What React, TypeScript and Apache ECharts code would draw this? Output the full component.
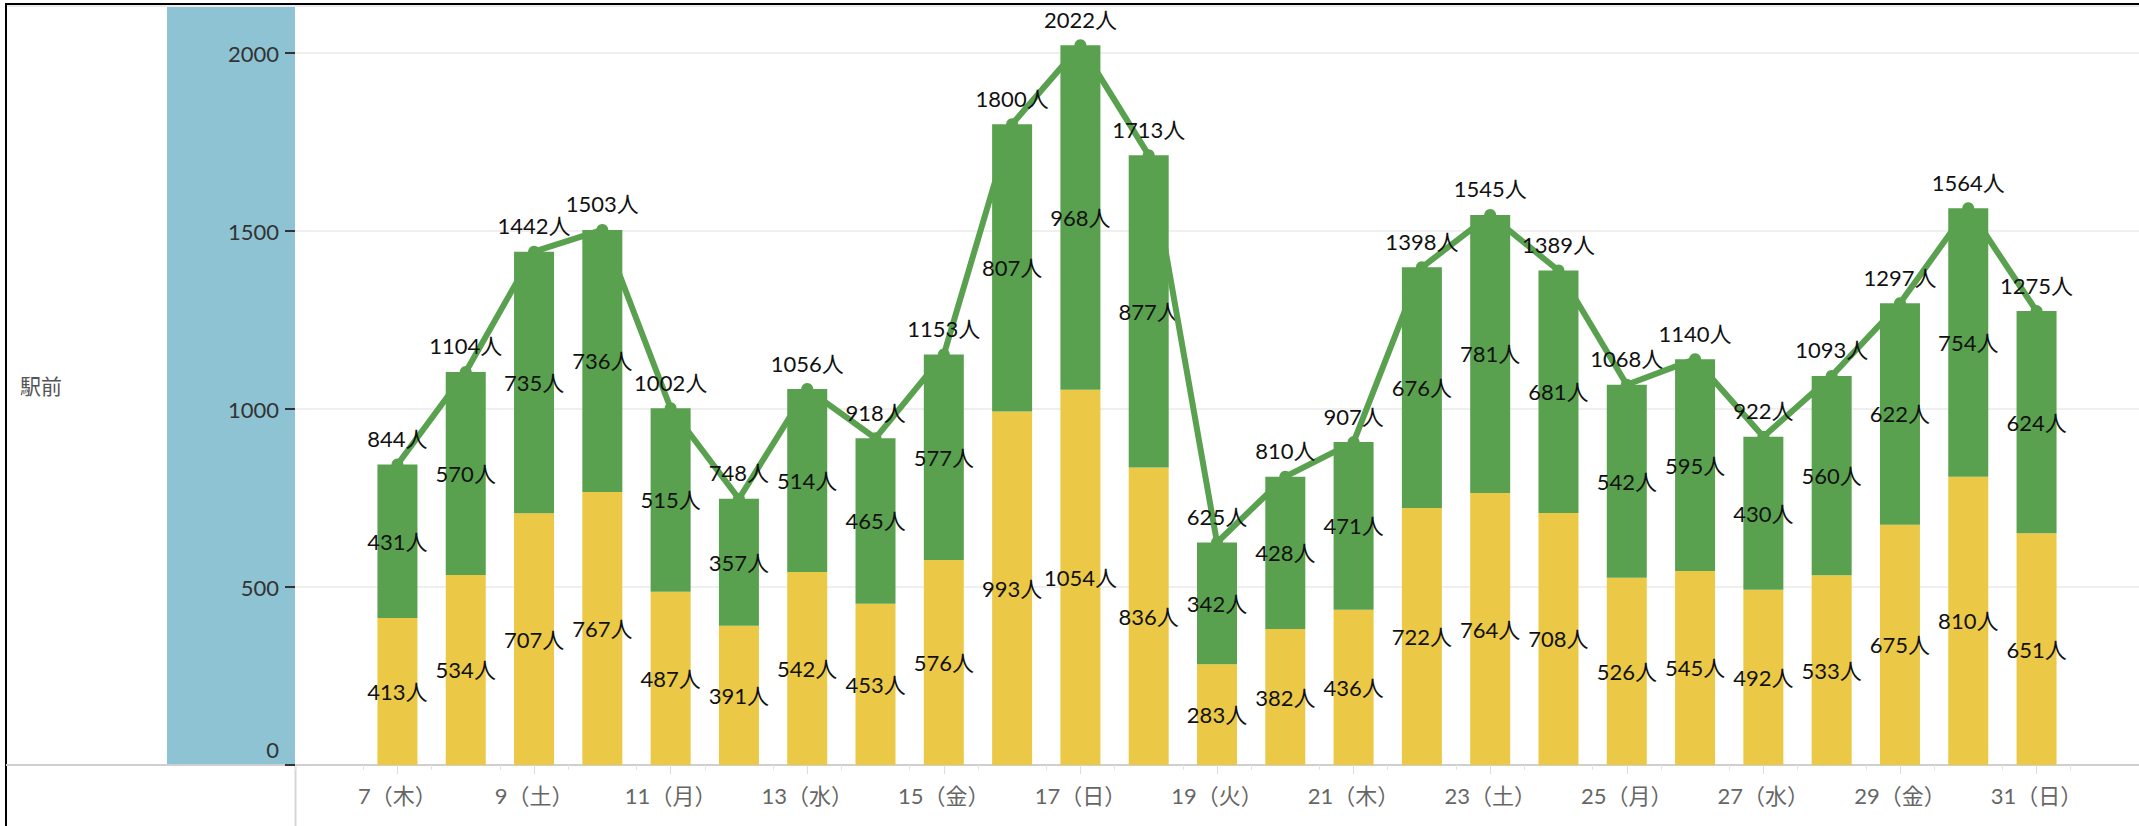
import React, { useEffect, useRef } from "react";
import * as echarts from "echarts";

const days = [7, 8, 9, 10, 11, 12, 13, 14, 15, 16, 17, 18, 19, 20, 21, 22, 23, 24, 25, 26, 27, 28, 29, 30, 31];
const weekdays = ["木", "金", "土", "日", "月", "火", "水", "木", "金", "土", "日", "月", "火", "水", "木", "金", "土", "日", "月", "火", "水", "木", "金", "土", "日"];
const yellowValues = [413, 534, 707, 767, 487, 391, 542, 453, 576, 993, 1054, 836, 283, 382, 436, 722, 764, 708, 526, 545, 492, 533, 675, 810, 651];
const greenValues = [431, 570, 735, 736, 515, 357, 514, 465, 577, 807, 968, 877, 342, 428, 471, 676, 781, 681, 542, 595, 430, 560, 622, 754, 624];
const totalValues = [844, 1104, 1442, 1503, 1002, 748, 1056, 918, 1153, 1800, 2022, 1713, 625, 810, 907, 1398, 1545, 1389, 1068, 1140, 922, 1093, 1297, 1564, 1275];
const yTickValues = [0, 500, 1000, 1500, 2000];
const rowHeader = "駅前";

const FONT = "Lato, 'Noto Sans CJK JP', sans-serif";
const YELLOW = "#ebc947";
const GREEN = "#59a14f";

export default function App() {
  const ref = useRef<HTMLDivElement>(null);
  useEffect(() => {
    if (!ref.current) return;
    const chart = echarts.init(ref.current, undefined, { renderer: "svg" });
    // pad one empty day on each side of the axis
    const categories = [String(days[0] - 1), ...days.map(String), String(days[days.length - 1] + 1)];
    const pad = (arr: number[]) => [null, ...arr, null];
    const labelOf = (idx: number) => {
      const i = idx - 1;
      if (i < 0 || i >= days.length) return "";
      return `${days[i]}（${weekdays[i]}）`;
    };
    const valueLabel = (p: any) => (p.value == null ? "" : `${p.value}人`);
    const yMin = yTickValues[0];
    const yMax = yTickValues[yTickValues.length - 1];
    const yInterval = yTickValues[1] - yTickValues[0];

    chart.setOption({
      animation: false,
      backgroundColor: "#ffffff",
      grid: { left: 295, right: 0, top: 53, bottom: 61, containLabel: false },
      xAxis: [
        {
          type: "category",
          data: categories,
          boundaryGap: true,
          axisLine: { show: true, lineStyle: { color: "#cfcfcf", width: 2 } },
          axisTick: { show: true, interval: 0, length: 5, lineStyle: { color: "#e4e4e4", width: 1 } },
          axisLabel: {
            interval: (index: number) => index % 2 === 1,
            formatter: (_v: string, index: number) => labelOf(index),
            color: "#666666",
            fontSize: 22,
            fontFamily: FONT,
            margin: 19,
          },
          splitLine: { show: false },
        },
        {
          type: "category",
          data: categories,
          position: "bottom",
          boundaryGap: true,
          axisLine: { show: false },
          axisTick: {
            show: true,
            alignWithLabel: true,
            interval: (index: number) => index % 2 === 1,
            length: 9,
            lineStyle: { color: "#dddddd", width: 1 },
          },
          axisLabel: { show: false },
          splitLine: { show: false },
        },
      ],
      yAxis: {
        type: "value",
        min: yMin,
        max: yMax,
        interval: yInterval,
        axisLine: { show: false },
        axisTick: { show: true, length: 10, lineStyle: { color: "#333333", width: 2 } },
        axisLabel: {
          color: "#333333",
          fontSize: 22,
          fontFamily: FONT,
          margin: 16,
          formatter: (v: number) => (v === 0 ? "{z|0}" : String(v)),
          rich: { z: { fontSize: 22, color: "#333333", fontFamily: FONT, padding: [0, 0, 32, 0] } },
        },
        splitLine: { show: true, lineStyle: { color: "#efefef", width: 2 } },
      },
      graphic: [
        { type: "rect", z: -10, shape: { x: 167, y: 7, width: 128, height: 758 }, style: { fill: "#8ec3d3" } },
        { type: "line", shape: { x1: 5, y1: 4, x2: 2139, y2: 4 }, style: { stroke: "#000000", lineWidth: 2 } },
        { type: "line", shape: { x1: 5, y1: 6, x2: 2139, y2: 6 }, style: { stroke: "#d8d8d8", lineWidth: 1 } },
        { type: "line", shape: { x1: 6, y1: 3, x2: 6, y2: 826 }, style: { stroke: "#000000", lineWidth: 2 } },
        { type: "line", shape: { x1: 6, y1: 765, x2: 295, y2: 765 }, style: { stroke: "#cfcfcf", lineWidth: 2 } },
        { type: "line", shape: { x1: 295.5, y1: 765, x2: 295.5, y2: 826 }, style: { stroke: "#d6d6d6", lineWidth: 2 } },
        {
          type: "text",
          x: 20,
          y: 385,
          style: { text: rowHeader, font: "21px 'Noto Sans CJK JP'", fill: "#555555", verticalAlign: "middle", align: "left" },
        },
      ],
      series: [
        {
          name: "yellow",
          type: "bar",
          stack: "total",
          barWidth: 40,
          clip: false,
          data: pad(yellowValues),
          itemStyle: { color: YELLOW },
          label: { show: true, position: "inside", formatter: valueLabel, color: "#111111", fontSize: 22, fontFamily: FONT },
        },
        {
          name: "green",
          type: "bar",
          stack: "total",
          barWidth: 40,
          clip: false,
          data: pad(greenValues),
          itemStyle: { color: GREEN },
          label: { show: true, position: "inside", formatter: valueLabel, color: "#111111", fontSize: 22, fontFamily: FONT },
        },
        {
          name: "total",
          type: "line",
          clip: false,
          data: pad(totalValues),
          symbol: "circle",
          symbolSize: 12,
          lineStyle: { color: GREEN, width: 6 },
          itemStyle: { color: GREEN },
          label: { show: true, position: "top", distance: 9, formatter: valueLabel, color: "#111111", fontSize: 22, fontFamily: FONT },
        },
      ],
    });
    return () => chart.dispose();
  }, []);
  return <div ref={ref} style={{ position: "absolute", left: 0, top: 0, width: 2139, height: 826 }} />;
}
